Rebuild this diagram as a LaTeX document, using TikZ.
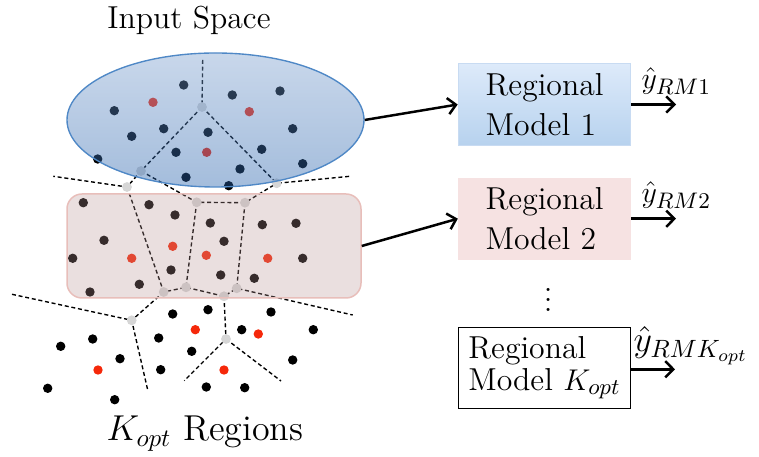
\documentclass[tikz,border=0pt]{standalone}
\usetikzlibrary{arrows.meta,shapes.geometric}

\definecolor{ellTop}{RGB}{125,160,207}
\definecolor{ellBot}{RGB}{38,97,171}
\definecolor{ellLine}{RGB}{79,136,198}
\definecolor{rectFill}{RGB}{184,148,148}
\definecolor{rectLine}{RGB}{232,190,186}
\definecolor{boxTop}{RGB}{221,234,250}
\definecolor{boxBot}{RGB}{183,210,238}
\definecolor{boxLine}{RGB}{200,219,242}
\definecolor{pinkBox}{RGB}{246,226,226}
\definecolor{pointRed}{RGB}{245,40,10}
\definecolor{vertexGrey}{RGB}{214,214,214}

\tikzset{
  border/.style={dash pattern=on 1.6pt off 1.1pt, line width=0.55pt},
  pt/.style={fill=black},
  rpt/.style={fill=pointRed},
  vx/.style={fill=vertexGrey},
  flow/.style={line width=1pt, -{Straight Barb[length=3.2pt,width=6.5pt]}},
  modelbox/.style={rectangle, inner sep=0pt, align=left,
    minimum width={172.4*0.4pt}, minimum height={82*0.4pt},
    font=\fontsize{12.7}{15.3}\selectfont},
  lbl/.style={font=\fontsize{12.7}{15.3}\selectfont, inner sep=0pt},
}

\begin{document}
\begin{tikzpicture}[x=0.4pt, y=-0.4pt]
\useasboundingbox (0,0) rectangle (759,457);

% Voronoi vertices
\coordinate (v1) at (202,107);
\coordinate (v2) at (141,171);
\coordinate (v3) at (127,187);
\coordinate (v4) at (276.7,183.3);
\coordinate (v5) at (196.7,202.3);
\coordinate (v6) at (245,202.7);
\coordinate (v7) at (163.7,292);
\coordinate (v8) at (186,287.3);
\coordinate (v9) at (236.7,288.3);
\coordinate (v10) at (224,296.3);
\coordinate (v11) at (131.7,320.3);
\coordinate (v12) at (226,339);
% open ends of the unbounded cell borders
\coordinate (e1) at (202.7,60);
\coordinate (e2) at (53.3,176.3);
\coordinate (e3) at (350,176.3);
\coordinate (e4) at (352.7,315);
\coordinate (e5) at (12,294.3);
\coordinate (e6) at (147.7,390);
\coordinate (e7) at (184.3,380.7);
\coordinate (e8) at (281,381);

% cell borders
\draw[border] (e1) -- (v1) -- (v2) -- (v3) -- (e2);
\draw[border] (v1) -- (v4) -- (e3);
\draw[border] (v2) -- (v5) -- (v6) -- (v4);
\draw[border] (v5) -- (v8);
\draw[border] (v6) -- (v9) -- (e4);
\draw[border] (v3) -- (v7) -- (v8) -- (v10) -- (v9);
\draw[border] (e5) -- (v11) -- (e6);
\draw[border] (v7) -- (v11);
\draw[border] (v10) -- (v12) -- (e7);
\draw[border] (v12) -- (e8);

% vertex markers
\foreach \v in {v1,v2,v3,v4,v5,v6,v7,v8,v9,v10,v11,v12}
  \fill[vx] (\v) circle (4.9);

% data points
\foreach \p in {(183.7,85),(114.3,110.7),(232.3,95),(280,91),(131.7,136.3),
  (163.7,128.7),(208,132.3),(292.7,128.7),(176,152.3),(261.7,149.3),
  (97.7,159),(240,169),(302.7,163.7),(186,177.3),(228.7,185.7),
  (83.3,202.7),(149,204.7),(175,215),(210.3,223),(262.3,224.7),(296,223.3),
  (104,240.3),(224,241.3),(72.7,258.3),(302.7,258.3),(171,270),(220.7,275),
  (254.3,278.3),(139.3,284.3),(90,292),
  (208,309.7),(172.7,314),(271,312),(241.7,329.7),(313.3,329.7),(92.7,339),
  (60.7,346.3),(158.7,338),(191.7,351.3),(120,358.7),(292.7,360),
  (160.7,369.7),(47.7,388.3),(206.3,387),(244.7,387.7),(114.7,399.7)}
  \fill[pt] \p circle (4.7);
\foreach \p in {(153,102.3),(249.3,111.7),(206.7,152.3),
  (172.7,246.3),(131.7,258.3),(206.3,255.3),(267.7,258.3),
  (195.3,329.7),(258.3,334),(98,370),(224,370)}
  \fill[rpt] \p circle (4.7);

% input space and one of its regions
\node (space) [ellipse, inner sep=0pt, minimum width={297*0.4pt},
  minimum height={134*0.4pt}, top color=ellTop, bottom color=ellBot,
  fill opacity=0.42, draw=ellLine, draw opacity=1, line width=0.55pt]
  at (215.5,120) {};
\node (region) [rectangle, rounded corners=6pt, inner sep=0pt,
  minimum width={294*0.4pt}, minimum height={104*0.4pt},
  fill=rectFill, fill opacity=0.3, draw=rectLine, draw opacity=1,
  line width=0.6pt] at (214,246) {};

\node (title) [lbl, anchor=base] at (189,28.3) {Input Space};
\node (regions) [font=\fontsize{14.4}{17}\selectfont, inner sep=0pt,
  anchor=base] at (205,441) {$K_{opt}$ Regions};

% regional models
\node (m1) [modelbox, top color=boxTop, bottom color=boxBot, draw=boxLine,
  line width=0.5pt] at (544.5,104.5) {Regional\\[0.8pt]Model 1};
\node (m2) [modelbox, fill=pinkBox] at (544.5,218.7) {Regional\\[0.8pt]Model 2};
\node (dots) [lbl] at (548.3,292) {$\vdots$};
\node (m3) [modelbox, draw=black, line width=0.6pt, fill=white,
  minimum height={81*0.4pt}] at (544.5,367.8)
  {Regional\\[-2.5pt]Model $K_{opt}$};

\draw[flow] (space.east) -- (m1.west);
\draw[flow] (region.east) -- (m2.west);

\coordinate (o1) at (676,104.5);
\coordinate (o2) at (676,218.7);
\coordinate (o3) at (675,369.3);
\draw[flow] (m1.east) -- (o1);
\draw[flow] (m2.east) -- (o2);
\draw[flow] (m3.east |- o3) -- (o3);

\node (y1) [lbl, anchor=base west] at (641,89) {$\hat{y}_{RM1}$};
\node (y2) [lbl, anchor=base west] at (641,203) {$\hat{y}_{RM2}$};
\node (y3) [font=\fontsize{14.8}{17}\selectfont, inner sep=0pt,
  anchor=base west] at (633,352) {$\hat{y}_{RMK_{opt}}$};
\end{tikzpicture}
\end{document}
